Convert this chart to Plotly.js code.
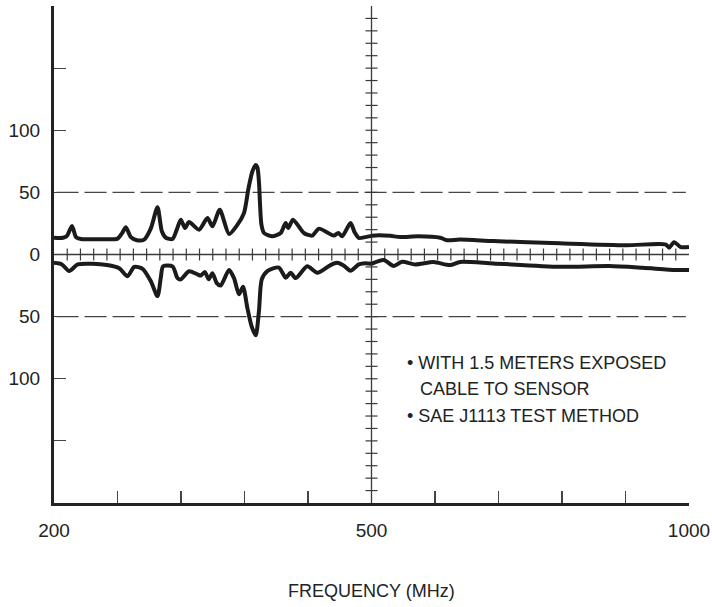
<!DOCTYPE html>
<html><head><meta charset="utf-8">
<script src="https://cdn.plot.ly/plotly-3.0.1.min.js"></script>
<style>html,body{margin:0;padding:0;background:#fff}#chart{width:712px;height:607px}</style>
</head><body><div id="chart"></div>
<script>
// ---- data (frequency in MHz, level as plotted; lower trace plotted below zero) ----
const upperFreq = [200,208.5,212.3,217,220.8,225.5,244.3,260.1,264.2,267.9,272.6,278.3,285.2,291.5,297.8,301.9,305.7,312,316,319.8,323.8,327.6,337.1,345,349.7,356.6,365.4,372.6,379.5,383.7,387.5,390.6,392.2,393.7,394.7,396,398.4,406.3,414.2,418.9,421.4,425.8,436.1,444,450.3,464.4,468.6,472.4,480.2,484,488,494.3,500,511.4,529.8,545.5,574,608.2,618.7,639.5,691.7,796.2,900.8,963.5,968.7,976.5,987,1000];
const upperLevel = [13.5,13.5,15,23,14,12.5,12.3,12.8,17,22,14,11.5,12,21,38,18.7,13.5,12.5,20,28,21.3,26.1,20,29.3,22.7,36,16.5,23,33.3,53,67,72,70,58,40,24,17.3,14.7,17.3,25.3,21.3,28,17.3,15.2,20.8,15.2,17.3,14.7,25.3,18,13.3,14,15,15.5,15,14,14.7,13.5,11.5,12,10.8,9,7.5,8,5.5,9.9,6,6];
const lowerFreq = [200,207.5,214.4,222.4,236.5,250,261.6,269.5,275.8,283.7,291.5,297.8,300.9,303.1,312,316.7,319.8,327.6,335.6,338.7,342.5,346.2,349.7,353.8,357.5,365.4,370.1,374.8,378.6,382.7,386.8,390.6,393.7,396.3,401.6,412.5,418.9,423.6,428.3,439.3,448.8,461.3,467.6,473.9,480.2,488,494.3,500,519.3,535,548.1,569,597.6,623.8,639.5,691.7,796.2,874.6,926.8,979.2,1000];
const lowerLevel = [-6.7,-8,-13.3,-8,-7.5,-8.5,-11,-17.5,-10,-11.5,-21.5,-33.5,-18.7,-9.5,-9.5,-19,-20,-13.5,-16,-17,-14,-20,-15,-23,-25,-12.5,-19,-32,-26,-43,-58,-65,-45,-20,-13.3,-10.5,-18.7,-14.7,-19,-9.5,-14.7,-8.5,-6.7,-9,-13,-8,-7,-7.5,-4.5,-9.3,-5.9,-8,-6.1,-8.5,-6,-7.2,-9.9,-9.3,-10.7,-12.5,-12.5];

const xTicksLeft = [200,260,320,380,440];
const xTickTextLeft = ['200','','','',''];
const xTicksRight = [500,600,700,800,900,1000];
const xTickTextRight = ['500','','','','','1000'];
const yTickVals = [-150,-100,-50,0,50,100,150];
const yTickText = ['','100','50','0','50','100',''];
const yRightTicks = [-150,-100,100,150];
const dashedLevels = [50,-50];
const noteLines = ['\u2022 WITH 1.5 METERS EXPOSED','CABLE TO SENSOR','\u2022 SAE J1113 TEST METHOD'];
const xTitleText = 'FREQUENCY (MHz)';

// ---- build ----
const FONT = '"Liberation Sans Narrow", "Arial Narrow", "Liberation Sans", Arial, sans-serif';
const INK = '#1b1b1b';
function part(fr, lv, lo, hi){
  const x=[],y=[];
  fr.forEach((f,i)=>{ if(f>=lo && f<=hi){ x.push(f); y.push(lv[i]); } });
  return {x,y};
}
function trace(p, xa){
  return {x:p.x, y:p.y, xaxis:xa, yaxis:'y', mode:'lines', type:'scatter', hoverinfo:'skip',
    line:{color:INK, width:4, shape:'spline', smoothing:0.7}, showlegend:false};
}
const traces = [
  trace(part(upperFreq,upperLevel,200,500),'x'),
  trace(part(upperFreq,upperLevel,500,1000),'x2'),
  trace(part(lowerFreq,lowerLevel,200,500),'x'),
  trace(part(lowerFreq,lowerLevel,500,1000),'x2')
];

const tickFont = {family:FONT, size:19, color:'#222'};
const baseX = {anchor:'y', showgrid:false, zeroline:false, showline:true, linecolor:'#222', linewidth:3,
  ticks:'inside', ticklen:12, tickwidth:1.2, tickcolor:'#444', tickmode:'array', tickfont:tickFont, ticklabelstandoff:8, fixedrange:true};
const topX = {anchor:'y', side:'top', showgrid:false, zeroline:false, showline:true, linecolor:'#444', linewidth:1.4,
  ticks:'inside', ticklen:12, tickwidth:1.2, tickcolor:'#444', tickmode:'array', showticklabels:false, fixedrange:true};

const shapes = [];
const thin = {color:'#3a3a3a', width:1.3};
shapes.push({type:'line', xref:'paper', yref:'y', x0:0, x1:1, y0:0, y1:0, line:thin, layer:'below'});
shapes.push({type:'line', xref:'paper', yref:'paper', x0:0.5, x1:0.5, y0:0, y1:1, line:thin, layer:'below'});
dashedLevels.forEach(v=>shapes.push({type:'line', xref:'paper', yref:'y', x0:0.004, x1:0.995, y0:v, y1:v,
  line:{color:'#444', width:1.3, dash:'22px,6px'}, layer:'below'}));
for(let k=1;k<48;k++){ if(k===24) continue;
  shapes.push({type:'line', xref:'paper', yref:'y', ysizemode:'pixel', yanchor:0, x0:k/48, x1:k/48, y0:-6, y1:6, line:{color:'#3a3a3a', width:1.2}, layer:'below'});
}
for(let v=-190; v<=190; v+=10){ if(v===0) continue;
  shapes.push({type:'line', xref:'paper', yref:'y', xsizemode:'pixel', xanchor:0.5, x0:-6, x1:6, y0:v, y1:v, line:{color:'#3a3a3a', width:1.2}, layer:'below'});
}

const noteFont = {family:FONT, size:18, color:'#222'};
const annotations = [
  {xref:'x2', yref:'y', x:552, y:-87.2, text:noteLines[0], showarrow:false, xanchor:'left', yanchor:'middle', align:'left', font:noteFont},
  {xref:'x2', yref:'y', x:573, y:-108, text:noteLines[1], showarrow:false, xanchor:'left', yanchor:'middle', align:'left', font:noteFont},
  {xref:'x2', yref:'y', x:552, y:-129.6, text:noteLines[2], showarrow:false, xanchor:'left', yanchor:'middle', align:'left', font:noteFont},
  {xref:'paper', yref:'paper', x:0.5, y:-0.177, text:xTitleText, showarrow:false, xanchor:'center', yanchor:'middle', font:{family:FONT, size:18, color:'#222'}}
];

const layout = {
  width:712, height:607, margin:{l:54, r:23, t:6, b:104},
  paper_bgcolor:'#fff', plot_bgcolor:'#fff', showlegend:false,
  xaxis: Object.assign({}, baseX, {domain:[0,0.5], range:[200,500], tickvals:xTicksLeft, ticktext:xTickTextLeft}),
  xaxis2: Object.assign({}, baseX, {domain:[0.5,1], range:[500,1000], tickvals:xTicksRight, ticktext:xTickTextRight}),
  xaxis3: Object.assign({}, topX, {overlaying:'x', range:[200,500], tickvals:xTicksLeft.slice(1)}),
  xaxis4: Object.assign({}, topX, {overlaying:'x2', range:[500,1000], tickvals:xTicksRight.slice(1,5)}),
  yaxis: {domain:[0,1], range:[-200,200], anchor:'x', showgrid:false, zeroline:false, showline:true, linecolor:'#222', linewidth:3,
    ticks:'inside', ticklen:12, tickwidth:1.2, tickcolor:'#444', tickmode:'array', tickvals:yTickVals, ticktext:yTickText,
    tickfont:tickFont, ticklabelstandoff:7, fixedrange:true},
  yaxis2: {overlaying:'y', side:'right', anchor:'x2', range:[-200,200], showgrid:false, zeroline:false, showline:true, linecolor:'#444', linewidth:1.4,
    ticks:'inside', ticklen:12, tickwidth:1.2, tickcolor:'#444', tickmode:'array', tickvals:yRightTicks, showticklabels:false, fixedrange:true},
  shapes: shapes,
  annotations: annotations
};
Plotly.newPlot('chart', traces, layout, {displayModeBar:false, staticPlot:true});
</script>
</body></html>
